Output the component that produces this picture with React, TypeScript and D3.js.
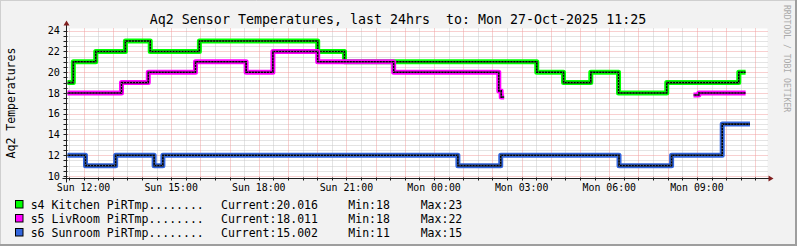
import React from "react";
import * as d3 from "d3";

const TITLE = "Aq2 Sensor Temperatures, last 24hrs  to: Mon 27-Oct-2025 11:25";
const Y_TITLE = "Aq2 Temperatures";
const WATERMARK = "RRDTOOL / TOBI OETIKER";
const Y_TICKS = [10, 12, 14, 16, 18, 20, 22, 24];
const X_START = "Sun 11:25";
const X_END = "Mon 11:25";

type Pt = [string, number | null];

const kitchen: Pt[] = [
  ["Sun 11:27", 19], ["Sun 11:39", 21], ["Sun 12:25", 22], ["Sun 13:26", 23],
  ["Sun 14:17", 22], ["Sun 15:58", 23], ["Sun 20:01", 22], ["Sun 20:56", 21],
  ["Mon 03:31", 20], ["Mon 04:26", 19], ["Mon 05:22", 20], ["Mon 06:19", 18],
  ["Mon 07:58", 19], ["Mon 10:26", 20], ["Mon 10:40", 20],
];
const livroom: Pt[] = [
  ["Sun 11:27", 18], ["Sun 13:18", 19], ["Sun 14:13", 20], ["Sun 15:50", 21],
  ["Sun 17:34", 20], ["Sun 18:29", 22], ["Sun 20:01", 21], ["Sun 22:37", 20],
  ["Mon 02:13", 18.2], ["Mon 02:18", 17.6], ["Mon 02:24", 17.6], ["Mon 02:25", null],
  ["Mon 08:53", 17.8], ["Mon 09:04", 18], ["Mon 10:40", 18],
];
const sunroom: Pt[] = [
  ["Sun 11:27", 12], ["Sun 12:04", 11], ["Sun 13:06", 12], ["Sun 14:25", 11],
  ["Sun 14:43", 12], ["Mon 00:49", 11], ["Mon 02:17", 12], ["Mon 06:20", 11],
  ["Mon 08:08", 12], ["Mon 09:52", 15], ["Mon 10:49", 15],
];

const SERIES = [kitchen, livroom, sunroom];
const COLORS = ["#00ff00", "#ff00ff", "#3366dd"];
const LEGEND_NAMES = ["s4 Kitchen PiRTmp........", "s5 LivRoom PiRTmp........", "s6 Sunroom PiRTmp........"];
const CURRENT = ["20.016", "18.011", "15.002"];
const MINS = ["18", "18", "11"];
const MAXS = ["23", "22", "15"];

function parseT(s: string): Date {
  const [day, hm] = s.split(" ");
  const [h, m] = hm.split(":").map(Number);
  return new Date(Date.UTC(2025, 9, day === "Sun" ? 26 : 27, h, m));
}

const W = 797, H = 246;
const X0 = 66.5, X1 = 767.5, YB = 178.5, YT = 28.5;

export default function App() {
  const x = d3.scaleUtc().domain([parseT(X_START), parseT(X_END)]).range([X0, X1]);
  const y = d3.scaleLinear().domain([9.76, 24.21]).range([YB, YT]);
  const px = (v: number) => Math.round(v) + 0.5;

  const minorY: number[] = d3.range(10, 24.21, 0.5).filter((v) => v % 2 !== 0);
  const minorX = d3.utcMinute.every(30)!.range(parseT(X_START), parseT(X_END)).filter((d) => d.getUTCMinutes() === 30);
  const majorX = d3.utcHour.every(1)!.range(parseT(X_START), parseT(X_END));
  const labelX = d3.utcHour.every(3)!.range(parseT(X_START), parseT(X_END));
  const fmt = d3.utcFormat("%a %H:%M");

  const line = d3
    .line<Pt>()
    .defined((d) => d[1] !== null)
    .x((d) => x(parseT(d[0])))
    .y((d) => y(d[1] as number))
    .curve(d3.curveStepAfter);

  const mono = "DejaVu Sans Mono, monospace";

  return (
    <svg width={W} height={H} style={{ position: "absolute", left: 0, top: 0 }} xmlns="http://www.w3.org/2000/svg">
      <rect x={0} y={0} width={W} height={H} fill="#f2f2f2" />
      <line x1={0} y1={0.5} x2={W} y2={0.5} stroke="#cfcfcf" strokeWidth={1} />
      <line x1={0.5} y1={0} x2={0.5} y2={H} stroke="#cfcfcf" strokeWidth={1} />
      <line x1={0} y1={H - 1} x2={W} y2={H - 1} stroke="#9e9e9e" strokeWidth={2} />
      <line x1={W - 1} y1={0} x2={W - 1} y2={H} stroke="#9e9e9e" strokeWidth={2} />
      <rect x={X0} y={YT} width={X1 - X0} height={YB - YT} fill="#ffffff" />
      {/* minor grid */}
      <g stroke="#c8c8c8" strokeWidth={1} strokeDasharray="1,1">
        {minorY.map((v) => (
          <line key={"my" + v} x1={X0} x2={X1} y1={px(y(v))} y2={px(y(v))} />
        ))}
        {minorX.map((d, i) => (
          <line key={"mx" + i} x1={px(x(d))} x2={px(x(d))} y1={YT} y2={YB} />
        ))}
      </g>
      {/* major grid */}
      <g stroke="#f0a0a0" strokeWidth={1} strokeDasharray="1,1">
        {Y_TICKS.map((v) => (
          <line key={"My" + v} x1={X0} x2={X1} y1={px(y(v))} y2={px(y(v))} />
        ))}
        {majorX.map((d, i) => (
          <line key={"Mx" + i} x1={px(x(d))} x2={px(x(d))} y1={YT} y2={YB} />
        ))}
      </g>
      {/* series */}
      {SERIES.map((s, i) => (
        <g key={"s" + i} fill="none">
          <path d={line(s) || ""} stroke={COLORS[i]} strokeWidth={5} strokeLinejoin="round" />
          <path d={line(s) || ""} stroke="#000" strokeWidth={1.6} />
          <path d={line(s) || ""} stroke="#ffffff" strokeWidth={0.6} strokeDasharray="1,2" opacity={0.8} />
        </g>
      ))}
      {/* ticks */}
      <g stroke="#1f1f1f" strokeWidth={1}>
        {majorX.concat(minorX).map((d, i) => (
          <line key={"tx" + i} x1={px(x(d))} x2={px(x(d))} y1={YB - 1} y2={YB + 2} />
        ))}
        {Y_TICKS.concat(minorY).map((v, i) => (
          <line key={"ty" + i} x1={X0 - 3} x2={X0 + 1} y1={px(y(v))} y2={px(y(v))} />
        ))}
      </g>
      {/* axes */}
      <line x1={X0 - 4} x2={X1 + 3} y1={YB} y2={YB} stroke="#1f1f1f" strokeWidth={1} />
      <line x1={X0} x2={X0} y1={YB + 4} y2={YT - 4} stroke="#1f1f1f" strokeWidth={1} />
      <path d={`M${X1 + 1},${YB - 3} L${X1 + 6},${YB} L${X1 + 1},${YB + 3} Z`} fill="#801f1f" />
      <path d={`M${X0 - 3},${YT - 3} L${X0},${YT - 8} L${X0 + 3},${YT - 3} Z`} fill="#801f1f" />
      {/* y labels */}
      <g fontFamily={mono} fontSize={10.2} fill="#000" textAnchor="end">
        {Y_TICKS.map((v) => (
          <text key={"yl" + v} x={60} y={y(v) + 3.6}>{v}</text>
        ))}
      </g>
      <g fontFamily={mono} fontSize={9.9} fill="#000" textAnchor="middle">
        {labelX.map((d, i) => (
          <text key={"xl" + i} x={x(d)} y={191}>{fmt(d)}</text>
        ))}
      </g>
      <text x={398} y={24} fontFamily={mono} fontSize={13.3} textAnchor="middle" fill="#000" xmlSpace="preserve" style={{ whiteSpace: "pre" }}>{TITLE}</text>
      <text transform="translate(15,103) rotate(-90)" fontFamily={mono} fontSize={11.5} textAnchor="middle" fill="#000">{Y_TITLE}</text>
      <text transform="translate(784,5) rotate(90)" fontFamily={mono} fontSize={8.1} fill="#aaaaaa">{WATERMARK}</text>
      {/* legend */}
      {LEGEND_NAMES.map((n, i) => {
        const yy = 200 + i * 14;
        return (
          <g key={"lg" + i} fontFamily={mono} fontSize={11.5} fill="#000">
            <rect x={15.5} y={yy + 0.5} width={7.5} height={7.5} fill={COLORS[i]} stroke="#000" strokeWidth={1} />
            <text x={30.7} y={yy + 8.5}>{n}</text>
            <text x={221} y={yy + 8.5}>{"Current:" + CURRENT[i]}</text>
            <text x={348.3} y={yy + 8.5}>{"Min:" + MINS[i]}</text>
            <text x={420.7} y={yy + 8.5}>{"Max:" + MAXS[i]}</text>
          </g>
        );
      })}
    </svg>
  );
}
